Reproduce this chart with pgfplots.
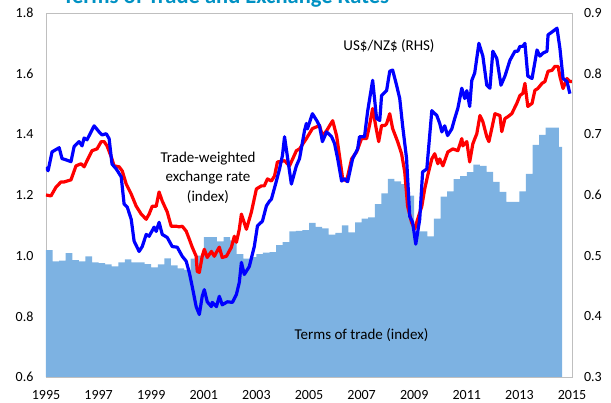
\documentclass[border=0pt]{standalone}
\usepackage{pgfplots}
\pgfplotsset{compat=1.18}
\usepackage{fontspec}
\setmainfont{Carlito}
\definecolor{areablue}{RGB}{125,178,226}
\definecolor{titleblue}{RGB}{0,145,195}
\definecolor{framegray}{RGB}{191,191,191}
\definecolor{twired}{RGB}{255,0,0}
\definecolor{fxblue}{RGB}{0,0,255}
\begin{document}
\begin{tikzpicture}
\pgfplotsset{every axis/.append style={font=\fontsize{14}{16}\selectfont,
  /pgf/number format/assume math mode=true}}
\begin{axis}[
  at={(0pt,0pt)}, anchor=south west, scale only axis,
  width=526pt, height=364pt,
  xmin=1995, xmax=2015, ymin=0.6, ymax=1.8,
  xtick={1995,1997,1999,2001,2003,2005,2007,2009,2011,2013,2015},
  ytick={0.6,0.8,1.0,1.2,1.4,1.6,1.8},
  major tick length=0pt,
  axis line style={draw=framegray, line width=0.9pt},
  xticklabel style={/pgf/number format/set thousands separator={}, yshift=-9.5pt},
  yticklabel style={/pgf/number format/.cd, fixed, fixed zerofill, precision=1, /tikz/.cd, xshift=-9pt},
]
\addplot[fill=areablue, draw=none, const plot] coordinates {
(1995.00,1.018) (1995.25,0.981) (1995.50,0.984) (1995.75,1.008)
(1996.00,0.985) (1996.25,0.981) (1996.50,0.998) (1996.75,0.978)
(1997.00,0.975) (1997.25,0.971) (1997.50,0.965) (1997.75,0.978)
(1998.00,0.988) (1998.25,0.978) (1998.50,0.978) (1998.75,0.972)
(1999.00,0.961) (1999.25,0.971) (1999.50,0.991) (1999.75,0.968)
(2000.00,0.958) (2000.25,0.953) (2000.50,0.990) (2000.75,1.000)
(2001.00,1.061) (2001.25,1.061) (2001.50,1.047) (2001.75,1.061)
(2002.00,1.050) (2002.25,1.005) (2002.50,0.990) (2002.75,0.995)
(2003.00,1.005) (2003.25,1.010) (2003.50,1.012) (2003.75,1.035)
(2004.00,1.045) (2004.25,1.080) (2004.50,1.082) (2004.75,1.084)
(2005.00,1.108) (2005.25,1.095) (2005.50,1.090) (2005.75,1.069)
(2006.00,1.075) (2006.25,1.100) (2006.50,1.077) (2006.75,1.110)
(2007.00,1.122) (2007.25,1.126) (2007.50,1.170) (2007.75,1.205)
(2008.00,1.253) (2008.25,1.245) (2008.50,1.236) (2008.75,1.198)
(2009.00,1.080) (2009.25,1.080) (2009.50,1.064) (2009.75,1.122)
(2010.00,1.195) (2010.25,1.212) (2010.50,1.252) (2010.75,1.262)
(2011.00,1.275) (2011.25,1.300) (2011.50,1.296) (2011.75,1.276)
(2012.00,1.243) (2012.25,1.210) (2012.50,1.177) (2012.75,1.177)
(2013.00,1.212) (2013.25,1.270) (2013.50,1.365) (2013.75,1.398)
(2014.00,1.422) (2014.25,1.422) (2014.50,1.359) (2014.62,1.359)
} \closedcycle;
\addplot[twired, line width=3.2pt, line join=round, mark=none] coordinates {
(1995.00,1.200) (1995.19,1.197) (1995.38,1.226) (1995.57,1.243) (1995.69,1.243)
(1995.95,1.250) (1996.14,1.296) (1996.33,1.303) (1996.45,1.293) (1996.56,1.313)
(1996.75,1.346) (1996.94,1.352) (1997.10,1.376) (1997.21,1.376) (1997.32,1.362)
(1997.48,1.326) (1997.59,1.296) (1997.78,1.293) (1997.90,1.279) (1998.05,1.236)
(1998.24,1.203) (1998.43,1.163) (1998.62,1.137) (1998.81,1.120) (1998.92,1.137)
(1999.04,1.163) (1999.19,1.163) (1999.30,1.210) (1999.42,1.180) (1999.61,1.144)
(1999.76,1.097) (1999.95,1.097) (2000.07,1.095) (2000.18,1.097) (2000.33,1.081)
(2000.45,1.054) (2000.56,1.028) (2000.71,0.998) (2000.75,0.948) (2000.83,0.945)
(2000.94,0.998) (2001.02,1.021) (2001.13,0.994) (2001.29,1.014) (2001.40,0.998)
(2001.48,1.011) (2001.59,1.028) (2001.70,0.994) (2001.86,0.998) (2002.05,1.028)
(2002.16,1.064) (2002.24,1.044) (2002.35,1.087) (2002.43,1.137) (2002.62,1.087)
(2002.81,1.144) (2003.00,1.220) (2003.19,1.230) (2003.30,1.230) (2003.42,1.253)
(2003.57,1.246) (2003.69,1.263) (2003.80,1.309) (2004.07,1.313) (2004.26,1.296)
(2004.52,1.346) (2004.64,1.352) (2004.90,1.386) (2005.13,1.419) (2005.40,1.429)
(2005.51,1.395) (2005.67,1.412) (2005.90,1.445) (2006.05,1.395) (2006.16,1.329)
(2006.28,1.253) (2006.43,1.246) (2006.62,1.319) (2006.81,1.342) (2007.00,1.386)
(2007.19,1.386) (2007.30,1.429) (2007.42,1.485) (2007.57,1.412) (2007.65,1.376)
(2007.76,1.429) (2007.88,1.429) (2007.95,1.435) (2008.07,1.468) (2008.18,1.419)
(2008.37,1.376) (2008.52,1.336) (2008.64,1.276) (2008.75,1.163) (2008.90,1.110)
(2009.02,1.087) (2009.13,1.120) (2009.29,1.163) (2009.40,1.220) (2009.51,1.263)
(2009.67,1.319) (2009.78,1.336) (2009.90,1.303) (2009.97,1.319) (2010.09,1.296)
(2010.28,1.342) (2010.47,1.352) (2010.66,1.346) (2010.81,1.386) (2010.85,1.362)
(2011.00,1.376) (2011.11,1.309) (2011.23,1.369) (2011.38,1.402) (2011.50,1.462)
(2011.61,1.442) (2011.76,1.392) (2011.84,1.376) (2011.95,1.419) (2012.07,1.468)
(2012.26,1.462) (2012.33,1.409) (2012.45,1.452) (2012.56,1.458) (2012.71,1.468)
(2012.90,1.502) (2013.02,1.528) (2013.13,1.535) (2013.21,1.568) (2013.32,1.492)
(2013.48,1.502) (2013.59,1.545) (2013.70,1.551) (2013.86,1.568) (2013.97,1.574)
(2014.09,1.608) (2014.24,1.611) (2014.35,1.624) (2014.47,1.624) (2014.54,1.591)
(2014.66,1.551) (2014.81,1.584) (2014.92,1.574) (2015.00,1.574)
};
\end{axis}
\begin{axis}[
  at={(0pt,0pt)}, anchor=south west, scale only axis,
  width=526pt, height=364pt,
  xmin=1995, xmax=2015, ymin=0.3, ymax=0.9,
  axis y line*=right, axis x line=none,
  ytick={0.3,0.4,0.5,0.6,0.7,0.8,0.9},
  major tick length=0pt,
  axis line style={draw=framegray, line width=0.9pt},
  yticklabel style={/pgf/number format/.cd, fixed, fixed zerofill, precision=1, /tikz/.cd, xshift=8.5pt},
]
\addplot[fxblue, line width=3.2pt, line join=round, mark=none] coordinates {
(1995.00,0.646) (1995.08,0.640) (1995.23,0.671) (1995.50,0.678) (1995.61,0.660)
(1995.76,0.658) (1995.95,0.655) (1996.07,0.680) (1996.26,0.688) (1996.37,0.681)
(1996.45,0.694) (1996.56,0.691) (1996.83,0.714) (1997.02,0.704) (1997.13,0.699)
(1997.29,0.701) (1997.40,0.693) (1997.51,0.651) (1997.67,0.643) (1997.86,0.630)
(1997.97,0.585) (1998.09,0.580) (1998.24,0.560) (1998.35,0.524) (1998.54,0.507)
(1998.66,0.515) (1998.81,0.535) (1998.92,0.532) (1999.11,0.547) (1999.19,0.540)
(1999.30,0.555) (1999.42,0.535) (1999.61,0.530) (1999.80,0.515) (1999.99,0.514)
(2000.18,0.499) (2000.33,0.491) (2000.45,0.472) (2000.56,0.449) (2000.71,0.416)
(2000.83,0.403) (2000.94,0.433) (2001.02,0.444) (2001.13,0.424) (2001.29,0.416)
(2001.32,0.423) (2001.48,0.416) (2001.59,0.433) (2001.70,0.419) (2001.90,0.424)
(2002.09,0.423) (2002.24,0.436) (2002.35,0.456) (2002.43,0.489) (2002.54,0.469)
(2002.73,0.482) (2002.92,0.515) (2003.04,0.549) (2003.23,0.557) (2003.38,0.582)
(2003.50,0.590) (2003.57,0.593) (2003.76,0.623) (2003.88,0.643) (2003.99,0.665)
(2004.07,0.696) (2004.33,0.618) (2004.52,0.648) (2004.64,0.660) (2004.83,0.706)
(2004.90,0.718) (2004.94,0.709) (2005.13,0.734) (2005.29,0.723) (2005.40,0.714)
(2005.51,0.688) (2005.67,0.704) (2005.86,0.696) (2005.97,0.685) (2006.09,0.660)
(2006.24,0.623) (2006.35,0.627) (2006.47,0.622) (2006.66,0.660) (2006.85,0.676)
(2006.92,0.696) (2007.11,0.696) (2007.23,0.738) (2007.42,0.789) (2007.57,0.726)
(2007.69,0.723) (2007.76,0.764) (2007.95,0.772) (2008.07,0.804) (2008.18,0.806)
(2008.33,0.781) (2008.45,0.759) (2008.56,0.714) (2008.71,0.660) (2008.83,0.565)
(2008.94,0.555) (2009.06,0.519) (2009.21,0.560) (2009.32,0.638) (2009.48,0.643)
(2009.67,0.739) (2009.86,0.731) (2009.97,0.718) (2010.05,0.704) (2010.16,0.714)
(2010.27,0.698) (2010.43,0.709) (2010.54,0.726) (2010.66,0.743) (2010.81,0.776)
(2010.92,0.759) (2011.00,0.772) (2011.11,0.746) (2011.19,0.789) (2011.30,0.801)
(2011.46,0.850) (2011.61,0.829) (2011.76,0.781) (2011.88,0.776) (2011.99,0.837)
(2012.14,0.825) (2012.30,0.781) (2012.45,0.796) (2012.64,0.822) (2012.83,0.837)
(2012.94,0.837) (2013.02,0.845) (2013.13,0.845) (2013.21,0.850) (2013.32,0.796)
(2013.48,0.792) (2013.67,0.839) (2013.78,0.829) (2013.90,0.834) (2014.05,0.837)
(2014.09,0.864) (2014.28,0.870) (2014.43,0.875) (2014.54,0.842) (2014.66,0.792)
(2014.81,0.787) (2014.92,0.767)
};
\end{axis}
\node[anchor=base, font=\fontsize{22.5}{26}\selectfont\bfseries, text=titleblue] at (180pt,373.7pt) {Terms of Trade and Exchange Rates};
\node[font=\fontsize{15}{18}\selectfont] at (343pt,331pt) {US\$/NZ\$ (RHS)};
\node[align=center, font=\fontsize{15}{19.5}\selectfont] at (162pt,199.5pt) {Trade-weighted\\exchange rate\\(index)};
\node[font=\fontsize{15}{18}\selectfont] at (315.5pt,42pt) {Terms of trade (index)};
\pgfresetboundingbox
\useasboundingbox (-46pt,-25pt) rectangle (565pt,377pt);
\end{tikzpicture}
\end{document}
